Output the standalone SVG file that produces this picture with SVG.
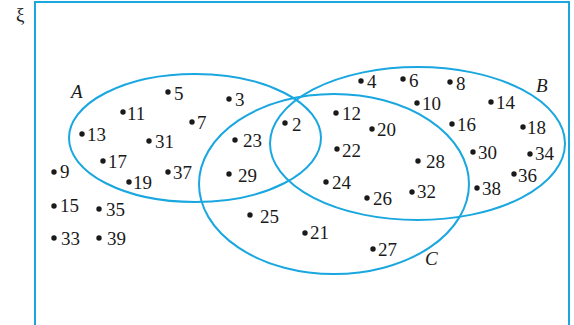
<svg xmlns="http://www.w3.org/2000/svg" width="574" height="325" viewBox="0 0 574 325">
<style>
.set{fill:none;stroke:#1aa7e0;stroke-width:2}
.d{fill:#1a1a1a}
text{font-family:"Liberation Serif","Times New Roman",serif;font-size:19px;fill:#1a1a1a}
.lbl{font-style:italic}
</style>
<rect width="574" height="325" fill="#fff"/>
<g id="universe">
<path class="set" d="M35,326 V2 H569 V326"/>
<text x="16" y="21">ξ</text>
</g>
<g id="setA">
<ellipse class="set" cx="195" cy="138" rx="126" ry="64"/>
<text class="lbl" x="71" y="98">A</text>
</g>
<g id="setB">
<ellipse class="set" cx="417.5" cy="143.5" rx="147.5" ry="76.5"/>
<text class="lbl" x="536" y="92">B</text>
</g>
<g id="setC">
<ellipse class="set" cx="334" cy="184" rx="135" ry="90"/>
<text class="lbl" x="425" y="265">C</text>
</g>
<g id="elements">
<circle class="d" cx="168" cy="92" r="2.7"/><text x="174" y="100">5</text>
<circle class="d" cx="229" cy="99" r="2.7"/><text x="235" y="106">3</text>
<circle class="d" cx="123" cy="112" r="2.7"/><text x="127" y="120">11</text>
<circle class="d" cx="192" cy="122" r="2.7"/><text x="197" y="129">7</text>
<circle class="d" cx="82" cy="134" r="2.7"/><text x="87" y="141">13</text>
<circle class="d" cx="149" cy="141" r="2.7"/><text x="155" y="148">31</text>
<circle class="d" cx="103" cy="161" r="2.7"/><text x="108" y="168">17</text>
<circle class="d" cx="54" cy="172" r="2.7"/><text x="60" y="178">9</text>
<circle class="d" cx="129" cy="182" r="2.7"/><text x="133" y="189">19</text>
<circle class="d" cx="168" cy="172" r="2.7"/><text x="173" y="179">37</text>
<circle class="d" cx="235" cy="140" r="2.7"/><text x="243" y="147">23</text>
<circle class="d" cx="229" cy="174" r="2.7"/><text x="238" y="182">29</text>
<circle class="d" cx="285" cy="123" r="2.7"/><text x="292" y="131">2</text>
<circle class="d" cx="54" cy="206" r="2.7"/><text x="60" y="212">15</text>
<circle class="d" cx="99" cy="209" r="2.7"/><text x="106" y="216">35</text>
<circle class="d" cx="54" cy="238" r="2.7"/><text x="61" y="245">33</text>
<circle class="d" cx="99" cy="238" r="2.7"/><text x="107" y="245">39</text>
<circle class="d" cx="250" cy="215" r="2.7"/><text x="260" y="223">25</text>
<circle class="d" cx="305" cy="233" r="2.7"/><text x="310" y="239">21</text>
<circle class="d" cx="373" cy="249" r="2.7"/><text x="378" y="256">27</text>
<circle class="d" cx="361" cy="81" r="2.7"/><text x="367" y="88">4</text>
<circle class="d" cx="403" cy="79" r="2.7"/><text x="409" y="87">6</text>
<circle class="d" cx="450" cy="82" r="2.7"/><text x="456" y="90">8</text>
<circle class="d" cx="417" cy="103" r="2.7"/><text x="422" y="110">10</text>
<circle class="d" cx="491" cy="102" r="2.7"/><text x="496" y="109">14</text>
<circle class="d" cx="336" cy="113" r="2.7"/><text x="342" y="120">12</text>
<circle class="d" cx="372" cy="129" r="2.7"/><text x="377" y="136">20</text>
<circle class="d" cx="452" cy="124" r="2.7"/><text x="457" y="131">16</text>
<circle class="d" cx="523" cy="127" r="2.7"/><text x="527" y="134">18</text>
<circle class="d" cx="337" cy="149" r="2.7"/><text x="342" y="157">22</text>
<circle class="d" cx="473" cy="152" r="2.7"/><text x="478" y="159">30</text>
<circle class="d" cx="530" cy="154" r="2.7"/><text x="535" y="160">34</text>
<circle class="d" cx="418" cy="161" r="2.7"/><text x="426" y="168">28</text>
<circle class="d" cx="326" cy="182" r="2.7"/><text x="332" y="189">24</text>
<circle class="d" cx="514" cy="174" r="2.7"/><text x="518" y="182">36</text>
<circle class="d" cx="412" cy="192" r="2.7"/><text x="417" y="198">32</text>
<circle class="d" cx="477" cy="188" r="2.7"/><text x="482" y="195">38</text>
<circle class="d" cx="367" cy="198" r="2.7"/><text x="373" y="205">26</text>
</g>
</svg>
